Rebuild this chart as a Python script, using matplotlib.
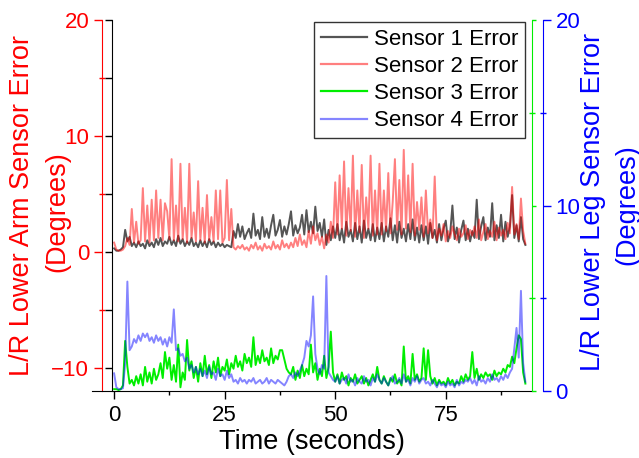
import numpy as np
import matplotlib
matplotlib.use("Agg")
import matplotlib.pyplot as plt
from matplotlib.ticker import FixedLocator

plt.rcParams["font.family"] = ["Liberation Sans", "DejaVu Sans"]

# sample spacing of the traces below (seconds)
STEP = 0.5

# L/R lower arm sensors (left axis, degrees)
sensor1 = [
    0.3, 0.1, 0.1, 0.2, 0.4, 1.9, 0.9, 1.3, 0.5, 0.8, 0.4, 0.9, 0.5, 0.7, 0.3, 1.0, 0.5, 0.8, 0.4, 1.1,
    0.6, 1.2, 0.5, 0.9, 0.7, 1.3, 0.6, 1.0, 0.5, 1.4, 0.7, 1.1, 0.5, 0.9, 0.6, 1.2, 0.5, 0.8, 0.4, 1.0,
    0.5, 0.9, 0.4, 1.1, 0.6, 0.9, 0.4, 0.8, 0.5, 0.7, 0.4, 0.6, 0.5, 0.4, 1.8, 1.2, 2.4, 1.3, 2.2, 1.1,
    1.6, 2.0, 1.2, 3.3, 1.4, 1.9, 1.1, 3.0, 1.3, 2.0, 1.2, 2.3, 3.2, 1.4, 1.9, 2.75, 1.3, 2.2, 1.5, 2.4,
    3.5, 1.4, 2.3, 1.6, 2.1, 3.2, 1.5, 3.6, 1.7, 2.6, 1.6, 3.9, 1.8, 2.5, 1.3, 2.8, 0.6, 1.9, 1.0, 2.2,
    1.2, 2.4, 1.0, 2.0, 0.8, 2.6, 1.3, 1.9, 0.9, 2.5, 1.1, 2.2, 0.8, 2.7, 1.2, 2.0, 1.0, 2.4, 0.9, 2.1,
    1.1, 2.5, 0.9, 2.2, 1.3, 2.9, 1.0, 2.3, 0.8, 2.6, 1.2, 2.0, 0.9, 2.4, 1.1, 2.8, 1.0, 2.1, 0.8, 2.3,
    1.0, 2.2, 0.7, 2.5, 1.2, 1.9, 0.8, 2.4, 1.0, 2.0, 2.7, 0.9, 1.6, 4.0, 1.1, 2.1, 0.8, 1.9, 2.7, 1.0,
    2.0, 0.9, 1.8, 1.2, 4.5, 1.1, 2.2, 3.0, 1.0, 2.1, 1.3, 4.2, 1.0, 2.3, 1.2, 3.2, 0.9, 2.6, 1.3, 2.2,
    4.9, 1.2, 2.3, 0.9, 3.0, 1.1, 0.6,
]
sensor2 = [
    0.8, 0.2, 0.1, 0.1, 0.2, 0.5, 1.2, 0.6, 3.7, 0.8, 2.6, 0.7, 1.0, 5.5, 0.9, 4.0, 0.8, 4.5, 1.0, 5.3,
    1.2, 4.5, 1.0, 4.2, 3.5, 1.1, 8.0, 1.0, 4.0, 0.9, 7.6, 1.1, 3.8, 0.8, 7.6, 1.2, 3.4, 0.9, 6.1, 1.0,
    3.8, 0.8, 4.9, 1.0, 3.0, 0.9, 5.3, 1.1, 5.3, 0.8, 1.2, 6.2, 1.0, 3.7, 0.4, 0.2, 0.5, 0.3, 0.6, 0.2,
    0.4, 0.1, 0.6, 0.3, 0.8, 0.2, 0.5, 0.1, 0.7, 0.3, 0.5, 0.2, 0.9, 0.3, 0.6, 0.2, 1.0, 0.4, 0.7, 0.3,
    0.8, 0.4, 1.2, 0.5, 1.5, 0.6, 1.0, 0.4, 1.8, 0.7, 2.2, 1.0, 1.6, 0.6, 1.3, 0.3, 1.5, 0.8, 2.6, 1.2,
    6.0, 1.5, 6.6, 2.0, 7.8, 1.4, 5.5, 1.8, 8.3, 1.3, 5.3, 1.7, 7.5, 1.2, 4.7, 2.0, 8.3, 1.4, 5.3, 1.5,
    7.6, 1.5, 5.3, 1.8, 6.8, 1.6, 4.3, 8.0, 1.9, 6.2, 1.5, 8.8, 2.0, 6.6, 1.7, 7.6, 1.4, 4.3, 1.9, 4.7,
    1.3, 5.3, 1.6, 2.8, 1.2, 6.5, 1.0, 2.0, 1.4, 2.4, 0.9, 1.8, 1.2, 2.2, 1.5, 1.0, 2.0, 1.3, 1.6, 2.3,
    1.1, 1.9, 1.4, 2.2, 1.2, 2.8, 1.0, 1.7, 2.4, 1.1, 1.8, 1.3, 2.6, 1.0, 2.1, 1.4, 1.9, 1.1, 2.5, 1.6,
    5.6, 1.5, 2.4, 1.1, 4.6, 1.8, 0.7,
]

# L/R lower leg sensors (right axis, degrees)
sensor3 = [
    0.1, 0.1, 0.05, 0.1, 0.3, 2.7, 1.3, 0.4, 0.6, 0.3, 0.8, 0.4, 0.9, 0.3, 1.3, 0.5, 1.0, 0.4, 1.2, 0.6,
    0.9, 1.5, 0.7, 2.1, 1.2, 1.8, 0.6, 1.4, 0.5, 2.5, 0.2, 1.0, 0.6, 2.75, 1.1, 1.6, 0.7, 1.3, 0.5, 1.5,
    0.8, 1.9, 0.9, 1.4, 0.7, 1.6, 1.0, 1.8, 0.8, 1.3, 1.1, 1.7, 0.9, 1.5, 1.2, 1.9, 1.3, 1.6, 1.1, 2.0,
    1.5, 1.8, 1.3, 2.9, 1.4, 1.9, 1.5, 2.2, 1.6, 1.8, 1.4, 2.3, 1.5, 1.9, 1.7, 2.2, 2.2, 1.7, 1.2, 1.0,
    0.9, 1.3, 0.6, 1.1, 0.7, 1.4, 0.8, 1.2, 0.9, 2.5, 1.0, 1.5, 0.6, 1.2, 0.8, 1.9, 0.7, 1.3, 3.2, 1.0,
    0.5, 0.9, 0.4, 1.0, 0.6, 0.8, 0.3, 0.7, 0.5, 0.9, 0.4, 0.6, 0.8, 0.4, 0.7, 0.3, 0.6, 0.9, 0.5, 1.3,
    0.6, 0.4, 0.8, 0.5, 0.3, 0.7, 0.5, 0.9, 0.4, 0.6, 0.3, 2.4, 0.5, 0.8, 0.4, 2.0, 0.6, 0.9, 0.5, 0.7,
    2.3, 0.6, 2.2, 0.8, 0.4, 0.7, 0.3, 0.6, 0.4, 0.5, 0.3, 0.7, 0.4, 0.6, 0.3, 0.5, 0.4, 0.8, 0.5, 0.9,
    0.6, 0.8, 2.1, 0.7, 1.2, 0.6, 0.9, 0.7, 1.0, 0.8, 0.9, 0.6, 1.1, 0.8, 1.0, 0.9, 1.2, 1.0, 1.4, 1.3,
    1.85, 1.5, 2.3, 3.0, 2.8, 1.0, 0.4,
]
sensor4 = [
    0.95, 0.2, 0.1, 0.1, 0.15, 1.5, 5.9, 2.2, 2.4, 2.8, 2.6, 3.0, 2.7, 3.1, 2.9, 3.1, 2.7, 2.9, 2.6, 3.0,
    2.7, 2.9, 2.5, 2.8, 2.4, 2.9, 2.6, 4.4, 2.2, 2.3, 1.9, 2.0, 1.6, 1.8, 1.2, 1.4, 1.0, 1.3, 0.9, 1.2,
    0.8, 1.1, 0.7, 1.3, 0.9, 1.0, 0.6, 1.2, 0.8, 0.9, 0.6, 1.1, 0.7, 0.9, 0.5, 0.6, 0.4, 0.7, 0.5, 0.6,
    0.4, 0.6, 0.5, 0.7, 0.4, 0.5, 0.6, 0.4, 0.5, 0.7, 0.4, 0.6, 0.5, 0.4, 0.6, 0.5, 0.4, 0.3, 0.5, 0.8,
    0.9, 0.7, 1.0, 0.8, 1.1, 1.4, 1.8, 2.7, 2.4, 3.0, 5.1, 2.0, 1.2, 0.9, 1.4, 1.2, 6.2, 1.0, 0.8, 0.6,
    0.5, 0.8, 0.4, 0.6, 0.7, 0.4, 0.9, 0.5, 0.6, 0.3, 0.7, 0.5, 0.4, 0.8, 0.5, 0.6, 0.3, 0.7, 0.5, 0.9,
    0.6, 0.4, 0.7, 0.5, 0.3, 0.6, 0.8, 0.4, 0.5, 0.7, 0.4, 0.9, 0.5, 0.6, 0.3, 0.7, 0.5, 0.8, 0.4, 0.6,
    0.7, 0.4, 0.5, 0.3, 0.6, 0.4, 0.2, 0.5, 0.3, 0.4, 0.2, 0.5, 0.3, 0.4, 0.2, 0.6, 0.3, 0.5, 0.4, 0.6,
    0.5, 0.7, 0.4, 0.6, 0.3, 0.8, 0.5, 0.6, 0.4, 0.7, 0.5, 0.9, 0.6, 0.7, 0.5, 0.8, 0.6, 0.9, 0.7, 1.0,
    1.2, 2.3, 3.4, 1.8, 5.4, 1.5, 0.5,
]

labels = ["Sensor 1 Error", "Sensor 2 Error", "Sensor 3 Error", "Sensor 4 Error"]
colors = ["#555555", (1, 0, 0, 0.5), "#00ee00", (0, 0, 1, 0.48)]


def times(series):
    return np.arange(len(series)) * STEP


fig = plt.figure(figsize=(6.39, 4.58), dpi=100)
ax = fig.add_axes([92 / 639, 67 / 458, 440 / 639, 371 / 458])
ax.set_xlim(-5, 94.5)
ax.set_ylim(-12, 20)

l1, = ax.plot(times(sensor1), sensor1, color=colors[0], lw=1.4)
l2, = ax.plot(times(sensor2), sensor2, color=colors[1], lw=1.4)

ax.spines["top"].set_visible(False)
ax.spines["right"].set_visible(False)
ax.spines["left"].set_position(("data", -0.5))
ax.yaxis.set_major_locator(FixedLocator(np.arange(-10, 21, 5)))
ax.tick_params(axis="y", length=5, width=1, direction="out", labelleft=False)
ax.xaxis.set_major_locator(FixedLocator([0, 25, 50, 75]))
ax.xaxis.set_minor_locator(FixedLocator([12.5, 37.5, 62.5, 87.5]))
ax.tick_params(axis="x", which="major", length=6, width=1, labelsize=16, pad=4)
ax.tick_params(axis="x", which="minor", length=3, width=1)
ax.set_xlabel("Time (seconds)", fontsize=19.5, labelpad=2)

# red labelled axis for the arm sensors
red_ax = ax.secondary_yaxis(location=9.7 / 440)
red_ax.set_yticks([-10, 0, 10, 20])
red_ax.yaxis.set_minor_locator(FixedLocator([-5, 5, 15]))
red_ax.spines["left"].set_color("red")
red_ax.tick_params(axis="y", which="major", colors="red", length=6, width=1, labelsize=16, pad=3)
red_ax.tick_params(axis="y", which="minor", colors="red", length=4, width=1, direction="inout")
ylab_l = red_ax.set_ylabel("L/R Lower Arm Sensor Error", color="red", fontsize=19.5)
red_ax.yaxis.set_label_coords((22 - 92) / 440, 0.5, transform=ax.transAxes)
ylab_l.set_verticalalignment("center")
ylab_l.set_horizontalalignment("center")
ax.text((57 - 92) / 440, (391 - 212) / 371, "(Degrees)", transform=ax.transAxes, rotation=90,
        ha="center", va="center", color="red", fontsize=19.5)

# leg sensors on the right
ax2 = ax.twinx()
ax2.set_ylim(0, 20)
l3, = ax2.plot(times(sensor3), sensor3, color=colors[2], lw=1.4)
l4, = ax2.plot(times(sensor4), sensor4, color=colors[3], lw=1.4)
for side in ["top", "left", "bottom"]:
    ax2.spines[side].set_visible(False)
ax2.spines["right"].set_color("#00ee00")
ax2.yaxis.set_major_locator(FixedLocator([0, 10, 20]))
ax2.yaxis.set_minor_locator(FixedLocator([5, 15]))
ax2.tick_params(axis="y", which="major", colors="#00ee00", length=3, width=1, labelright=False)
ax2.tick_params(axis="y", which="minor", colors="#00ee00", length=4, width=1, direction="inout")

blue_ax = ax2.secondary_yaxis(location=1 + 11 / 440)
blue_ax.set_yticks([0, 10, 20])
blue_ax.yaxis.set_minor_locator(FixedLocator([5, 15]))
blue_ax.spines["right"].set_color("blue")
blue_ax.tick_params(axis="y", which="major", colors="blue", length=6, width=1, labelsize=16, pad=3)
blue_ax.tick_params(axis="y", which="minor", colors="blue", length=4, width=1, direction="inout")
ylab_r = blue_ax.set_ylabel("L/R Lower Leg Sensor Error", color="blue", fontsize=19.5)
blue_ax.yaxis.set_label_coords((593 - 92) / 440, 0.51, transform=ax.transAxes)
ylab_r.set_verticalalignment("center")
ylab_r.set_horizontalalignment("center")
ax.text((627 - 92) / 440, (391 - 205) / 371, "(Degrees)", transform=ax.transAxes, rotation=90,
        ha="center", va="center", color="blue", fontsize=19.5)

leg = ax2.legend([l1, l2, l3, l4], labels, loc="upper right", bbox_to_anchor=(433 / 440, 369 / 371),
                 borderaxespad=0, fontsize=16, frameon=True, fancybox=False, framealpha=1,
                 edgecolor="#333333", handlelength=2.1, handletextpad=0.3, labelspacing=0.28,
                 borderpad=0.3)
leg.get_frame().set_linewidth(1.0)
for h in leg.get_lines():
    h.set_linewidth(1.6)

fig.savefig("out.png", dpi=100)
